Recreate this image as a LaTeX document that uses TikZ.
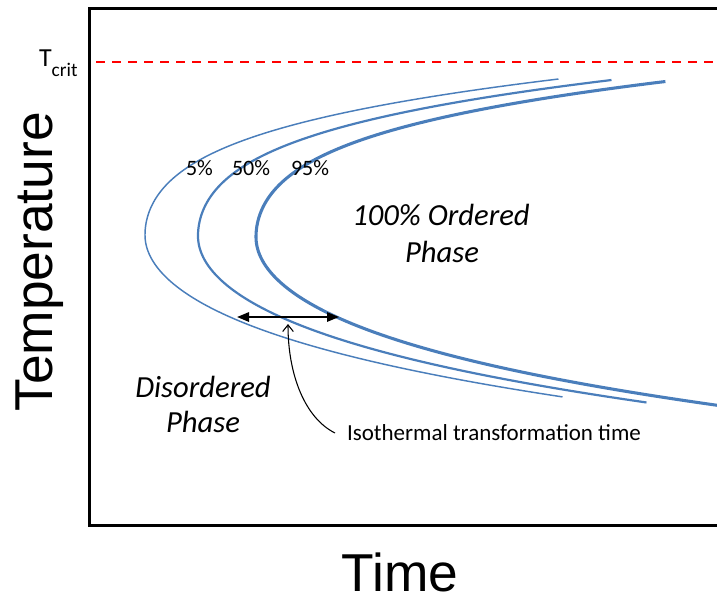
\documentclass[tikz,border=0pt]{standalone}
\usepackage{fontspec}
\setmainfont{Carlito}
\newfontfamily\arialfont{Liberation Sans}
\usetikzlibrary{arrows.meta}
\definecolor{curveblue}{RGB}{74,126,187}
\definecolor{critred}{RGB}{255,0,0}
\begin{document}
\begin{tikzpicture}[x=0.75pt,y=-0.75pt,
  axisline/.style={line width=2.25pt,black,line join=miter},
  critline/.style={line width=1.5pt,critred,dash pattern=on 7pt off 5pt},
  curvefive/.style={line width=1.1pt,curveblue},
  curvefifty/.style={line width=1.65pt,curveblue},
  curveninetyfive/.style={line width=2.3pt,curveblue},
  txt/.style={inner sep=0pt,outer sep=0pt,text=black},
  smalltxt/.style={txt,font=\fontsize{17.25}{20}\selectfont},
  pcttxt/.style={txt,font=\fontsize{16.5}{19}\selectfont},
  phasetxt/.style={txt,font=\fontsize{23}{27}\selectfont\itshape},
  axistxt/.style={txt,font=\arialfont\fontsize{40}{46}\selectfont},
  timearrow/.style={line width=1.5pt,black,{Triangle[length=9pt,width=7pt]}-{Triangle[length=9pt,width=7pt]}},
  pointer/.style={line width=0.8pt,black,-{Straight Barb[length=5pt,width=8pt]}}
]
\useasboundingbox (0,0) rectangle (717,601);
\begin{scope}
\clip (0,0) rectangle (717,601);
% axes
\coordinate (tr) at (717,8);
\coordinate (tl) at (89,8);
\coordinate (bl) at (89,525);
\coordinate (br) at (717,525);
\draw[axisline] (tr) -- (tl) -- (bl) -- (br);
% critical temperature line
\coordinate (critL) at (96,62);
\coordinate (critR) at (717,62);
\draw[critline] (critL) -- (critR);
% curves
\draw[curvefive,line join=round]
  plot[domain=-1.56:0,samples=80,variable=\t] ({145+75*\t*\t+39*(\t*\t)*(\t*\t)},{235+100*\t})
  -- plot[domain=0:1.62,samples=80,variable=\t] ({145+115*\t*\t+16.9*(\t*\t)*(\t*\t)},{235+100*\t});
\draw[curvefifty,line join=round]
  plot[domain=-1.56:0,samples=80,variable=\t] ({198+75*\t*\t+39*(\t*\t)*(\t*\t)},{236+100*\t})
  -- plot[domain=0:1.665,samples=80,variable=\t] ({198+115*\t*\t+16.9*(\t*\t)*(\t*\t)},{236+100*\t});
\draw[curveninetyfive,line join=round]
  plot[domain=-1.555:0,samples=80,variable=\t] ({256+75*\t*\t+39*(\t*\t)*(\t*\t)},{237+100*\t})
  -- plot[domain=0:1.75,samples=80,variable=\t] ({256+115*\t*\t+16.9*(\t*\t)*(\t*\t)},{237+100*\t});
\end{scope}
% labels
\node[txt,anchor=base west] (tcrit) at (39,66)
  {\fontsize{19.5}{22}\selectfont T\fontsize{14.5}{17}\selectfont\raisebox{-7.5pt}{crit}};
\node[pcttxt,anchor=base west] (p5) at (186,175) {5\%};
\node[pcttxt,anchor=base west] (p50) at (232,175) {50\%};
\node[pcttxt,anchor=base west] (p95) at (291,175) {95\%};
\node[phasetxt,anchor=base] (ord1) at (441,225) {100\% Ordered};
\node[phasetxt,anchor=base] (ord2) at (442,262) {Phase};
\node[phasetxt,anchor=base] (dis1) at (203,397) {Disordered};
\node[phasetxt,anchor=base] (dis2) at (203,432) {Phase};
\node[smalltxt,anchor=base west] (iso) at (347,440) {Isothermal transformation time};
\node[axistxt,anchor=base,rotate=90] (temp) at (52,262) {Temperature};
\node[axistxt,anchor=base,text depth=0pt] (time) at (400,591) {Time};
% arrows
\coordinate (aL) at (237,317);
\coordinate (aR) at (339,317);
\draw[timearrow] (aL) -- (aR);
\coordinate (ptail) at (335,433);
\coordinate (ptip) at (288,324);
\draw[pointer] (ptail) .. controls (305,418) and (288,375) .. (ptip);
\end{tikzpicture}
\end{document}
